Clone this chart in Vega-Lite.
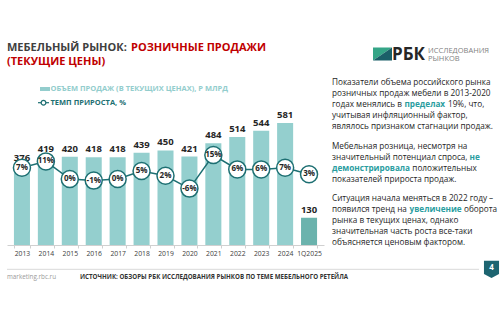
{
  "$schema": "https://vega.github.io/schema/vega-lite/v6.json",
  "padding": {"left": 6, "top": 0, "right": 0, "bottom": 0},
  "background": "white",
  "config": {"view": {"stroke": null}, "font": "Open Sans"},
  "spacing": 0,
  "resolve": {"scale": {"x": "independent", "y": "independent", "color": "independent", "shape": "independent"}},
  "vconcat": [
    {
      "hconcat": [
        {
          "width": 366,
          "height": 78,
          "data": {"values": [
            {"line": 1, "seg": "a", "text": "МЕБЕЛЬНЫЙ РЫНОК:"},
            {"line": 1, "seg": "b", "text": "РОЗНИЧНЫЕ ПРОДАЖИ"},
            {"line": 2, "seg": "c", "text": "(ТЕКУЩИЕ ЦЕНЫ)"}
          ]},
          "encoding": {
            "y": {"field": "line", "type": "ordinal", "scale": {"type": "point", "domain": [1, 2], "range": [51, 64.5], "padding": 0}, "axis": null},
            "text": {"field": "text"}
          },
          "layer": [
            {
              "transform": [{"filter": "datum.seg === 'a'"}],
              "mark": {"type": "text", "align": "left", "baseline": "alphabetic", "fontWeight": "bold", "fontSize": 11, "color": "#404040"},
              "encoding": {"x": {"datum": 0, "type": "quantitative", "scale": {"domain": [0, 366]}, "axis": null}}
            },
            {
              "transform": [{"filter": "datum.seg === 'b'"}],
              "mark": {"type": "text", "align": "left", "baseline": "alphabetic", "fontWeight": "bold", "fontSize": 11, "color": "#c00000"},
              "encoding": {"x": {"datum": 124, "type": "quantitative", "scale": {"domain": [0, 366]}, "axis": null}}
            },
            {
              "transform": [{"filter": "datum.seg === 'c'"}],
              "mark": {"type": "text", "align": "left", "baseline": "alphabetic", "fontWeight": "bold", "fontSize": 11, "color": "#c00000"},
              "encoding": {"x": {"datum": 0, "type": "quantitative", "scale": {"domain": [0, 366]}, "axis": null}}
            }
          ]
        },
        {
          "width": 128,
          "height": 78,
          "layer": [
            {
              "data": {"values": [{"piece": "light"}, {"piece": "dark"}]},
              "mark": {"type": "point", "filled": true, "opacity": 1, "size": 361, "strokeWidth": 0},
              "encoding": {
                "x": {"datum": 9.5, "type": "quantitative", "scale": {"domain": [0, 128]}, "axis": null},
                "y": {"datum": 54, "type": "quantitative", "scale": {"domain": [78, 0]}, "axis": null},
                "shape": {"field": "piece", "type": "nominal", "scale": {"domain": ["light", "dark"], "range": ["M-1,-0.68L1,-0.68L-1,0.68Z", "M1,-0.68L1,0.68L-1,0.68Z"]}, "legend": null},
                "color": {"field": "piece", "type": "nominal", "scale": {"domain": ["light", "dark"], "range": ["#35a587", "#1b5f68"]}, "legend": null}
              }
            },
            {
              "data": {"values": [{"text": "РБК"}]},
              "mark": {"type": "text", "align": "left", "baseline": "alphabetic", "fontWeight": "bold", "fontSize": 17, "color": "#262626"},
              "encoding": {
                "x": {"datum": 19, "type": "quantitative", "scale": {"domain": [0, 128]}, "axis": null},
                "y": {"datum": 60, "type": "quantitative", "scale": {"domain": [78, 0]}, "axis": null},
                "text": {"field": "text"}
              }
            },
            {
              "data": {"values": [{"text": "ИССЛЕДОВАНИЯ"}]},
              "mark": {"type": "text", "align": "left", "baseline": "middle", "fontSize": 7.5, "color": "#7f7f7f"},
              "encoding": {
                "x": {"datum": 55, "type": "quantitative", "scale": {"domain": [0, 128]}, "axis": null},
                "y": {"datum": 50.5, "type": "quantitative", "scale": {"domain": [78, 0]}, "axis": null},
                "text": {"field": "text"}
              }
            },
            {
              "data": {"values": [{"text": "РЫНКОВ"}]},
              "mark": {"type": "text", "align": "left", "baseline": "middle", "fontSize": 7.5, "color": "#7f7f7f"},
              "encoding": {
                "x": {"datum": 55, "type": "quantitative", "scale": {"domain": [0, 128]}, "axis": null},
                "y": {"datum": 59, "type": "quantitative", "scale": {"domain": [78, 0]}, "axis": null},
                "text": {"field": "text"}
              }
            }
          ]
        }
      ],
      "spacing": 0,
      "bounds": "flush",
      "resolve": {"scale": {"x": "independent", "y": "independent", "color": "independent", "shape": "independent"}}
    },
    {
      "hconcat": [
        {
          "vconcat": [
            {
              "width": 317,
              "height": 34,
              "data": {"values": [
                {"series": "bars", "label": "ОБЪЕМ ПРОДАЖ (В ТЕКУЩИХ ЦЕНАХ), Р МЛРД"},
                {"series": "growth", "label": "ТЕМП ПРИРОСТА, %"}
              ]},
              "layer": [
                {
                  "transform": [{"filter": "datum.series === 'bars'"}],
                  "mark": {"type": "point", "filled": true, "opacity": 1, "size": 100, "color": "#93cdcd", "shape": "M-1,-0.4L1,-0.4L1,0.4L-1,0.4Z"},
                  "encoding": {
                    "x": {"datum": 38, "type": "quantitative", "scale": {"domain": [0, 317]}, "axis": null},
                    "y": {"field": "series", "type": "ordinal", "scale": {"type": "point", "domain": ["bars", "growth"], "range": [11, 24.7], "padding": 0}, "axis": null}
                  }
                },
                {
                  "transform": [{"filter": "datum.series === 'growth'"}],
                  "mark": {"type": "rule", "color": "#1d6f72", "strokeWidth": 1.2},
                  "encoding": {
                    "x": {"datum": 31, "type": "quantitative", "scale": {"domain": [0, 317]}, "axis": null},
                    "x2": {"datum": 42},
                    "y": {"field": "series", "type": "ordinal", "scale": {"type": "point", "domain": ["bars", "growth"], "range": [11, 24.7], "padding": 0}, "axis": null}
                  }
                },
                {
                  "transform": [{"filter": "datum.series === 'growth'"}],
                  "mark": {"type": "point", "shape": "circle", "filled": true, "fill": "white", "stroke": "#1d6f72", "strokeWidth": 1.2, "size": 22, "opacity": 1},
                  "encoding": {
                    "x": {"datum": 36.5, "type": "quantitative", "scale": {"domain": [0, 317]}, "axis": null},
                    "y": {"field": "series", "type": "ordinal", "scale": {"type": "point", "domain": ["bars", "growth"], "range": [11, 24.7], "padding": 0}, "axis": null}
                  }
                },
                {
                  "mark": {"type": "text", "align": "left", "baseline": "middle", "fontWeight": "bold", "fontSize": 7.5},
                  "encoding": {
                    "x": {"datum": 43.5, "type": "quantitative", "scale": {"domain": [0, 317]}, "axis": null},
                    "y": {"field": "series", "type": "ordinal", "scale": {"type": "point", "domain": ["bars", "growth"], "range": [11, 24.7], "padding": 0}, "axis": null},
                    "text": {"field": "label"},
                    "color": {"field": "series", "type": "nominal", "scale": {"domain": ["bars", "growth"], "range": ["#93cdcd", "#1d6f72"]}, "legend": null}
                  }
                }
              ]
            },
            {
              "width": 317,
              "height": 133,
              "data": {"values": [
                {"period": "2013", "sales": 376, "growth": 7, "kind": "year"},
                {"period": "2014", "sales": 419, "growth": 11, "kind": "year"},
                {"period": "2015", "sales": 420, "growth": 0, "kind": "year"},
                {"period": "2016", "sales": 418, "growth": -1, "kind": "year"},
                {"period": "2017", "sales": 418, "growth": 0, "kind": "year"},
                {"period": "2018", "sales": 439, "growth": 5, "kind": "year"},
                {"period": "2019", "sales": 450, "growth": 2, "kind": "year"},
                {"period": "2020", "sales": 421, "growth": -6, "kind": "year"},
                {"period": "2021", "sales": 484, "growth": 15, "kind": "year"},
                {"period": "2022", "sales": 514, "growth": 6, "kind": "year"},
                {"period": "2023", "sales": 544, "growth": 6, "kind": "year"},
                {"period": "2024", "sales": 581, "growth": 7, "kind": "year"},
                {"period": "1Q2025", "sales": 130, "growth": 3, "kind": "quarter"}
              ]},
              "transform": [{"calculate": "datum.growth + '%'", "as": "growth_label"}],
              "encoding": {
                "x": {
                  "field": "period", "type": "ordinal", "sort": null,
                  "scale": {"paddingInner": 0.33, "paddingOuter": 0.29},
                  "axis": {"title": null, "labelAngle": 0, "labelFontSize": 6.8, "labelColor": "#404040", "labelPadding": 2, "domainColor": "#d0d0d0", "tickColor": "#d0d0d0", "tickSize": 3, "tickBand": "extent", "labelFont": "Open Sans"}
                }
              },
              "layer": [
                {
                  "layer": [
                    {
                      "mark": {"type": "bar"},
                      "encoding": {
                        "y": {"field": "sales", "type": "quantitative", "scale": {"domain": [0, 633]}, "axis": null},
                        "color": {"field": "kind", "type": "nominal", "scale": {"domain": ["year", "quarter"], "range": ["#94cfce", "#6bb3ad"]}, "legend": null}
                      }
                    },
                    {
                      "mark": {"type": "text", "baseline": "alphabetic", "dy": -5, "fontWeight": "bold", "fontSize": 9.5, "color": "#262626"},
                      "encoding": {
                        "y": {"field": "sales", "type": "quantitative", "scale": {"domain": [0, 633]}, "axis": null},
                        "text": {"field": "sales"}
                      }
                    }
                  ]
                },
                {
                  "layer": [
                    {
                      "mark": {"type": "line", "color": "#1d6f72", "strokeWidth": 1.5},
                      "encoding": {
                        "y": {"field": "growth", "type": "quantitative", "scale": {"domain": [-41.25, 41.875]}, "axis": null}
                      }
                    },
                    {
                      "mark": {"type": "point", "shape": "circle", "filled": true, "fill": "white", "stroke": "#1d6f72", "strokeWidth": 1.5, "size": 290, "opacity": 1},
                      "encoding": {
                        "y": {"field": "growth", "type": "quantitative", "scale": {"domain": [-41.25, 41.875]}, "axis": null}
                      }
                    },
                    {
                      "mark": {"type": "text", "baseline": "middle", "fontWeight": "bold", "fontSize": 8, "color": "#262626"},
                      "encoding": {
                        "y": {"field": "growth", "type": "quantitative", "scale": {"domain": [-41.25, 41.875]}, "axis": null},
                        "text": {"field": "growth_label"}
                      }
                    }
                  ]
                }
              ],
              "resolve": {"scale": {"y": "independent"}}
            }
          ],
          "spacing": 0,
          "bounds": "flush",
          "resolve": {"scale": {"x": "independent", "y": "independent", "color": "independent", "shape": "independent"}}
        },
        {
          "vconcat": [
            {
              "width": 160,
              "height": 54.5,
              "data": {"values": [
                {"line": 0, "seg": "a", "text": "Показатели объема российского рынка"},
                {"line": 1, "seg": "a", "text": "розничных продаж мебели в 2013-2020"},
                {"line": 2, "seg": "a", "text": "годах менялись в"},
                {"line": 2, "seg": "t", "text": "пределах"},
                {"line": 2, "seg": "c", "text": "19%, что,"},
                {"line": 3, "seg": "a", "text": "учитывая инфляционный фактор,"},
                {"line": 4, "seg": "a", "text": "являлось признаком стагнации продаж."}
              ]},
              "encoding": {
                "y": {"field": "line", "type": "ordinal", "scale": {"domain": [0, 1, 2, 3, 4]}, "axis": null},
                "text": {"field": "text"}
              },
              "layer": [
                {
                  "transform": [{"filter": "datum.seg === 'a'"}],
                  "mark": {"type": "text", "align": "left", "baseline": "middle", "fontSize": 8.2, "color": "#262626"},
                  "encoding": {"x": {"datum": 0, "type": "quantitative", "scale": {"domain": [0, 160]}, "axis": null}}
                },
                {
                  "transform": [{"filter": "datum.seg === 't'"}],
                  "mark": {"type": "text", "align": "left", "baseline": "middle", "fontSize": 8.2, "fontWeight": "bold", "color": "#2a9d9f"},
                  "encoding": {"x": {"datum": 72.5, "type": "quantitative", "scale": {"domain": [0, 160]}, "axis": null}}
                },
                {
                  "transform": [{"filter": "datum.seg === 'c'"}],
                  "mark": {"type": "text", "align": "left", "baseline": "middle", "fontSize": 8.2, "color": "#262626"},
                  "encoding": {"x": {"datum": 116, "type": "quantitative", "scale": {"domain": [0, 160]}, "axis": null}}
                }
              ]
            },
            {
              "width": 160,
              "height": 43.6,
              "data": {"values": [
                {"line": 0, "seg": "a", "text": "Мебельная розница, несмотря на"},
                {"line": 1, "seg": "a", "text": "значительный потенциал спроса,"},
                {"line": 1, "seg": "t1", "text": "не"},
                {"line": 2, "seg": "t0", "text": "демонстрировала"},
                {"line": 2, "seg": "c", "text": "положительных"},
                {"line": 3, "seg": "a", "text": "показателей прироста продаж."}
              ]},
              "encoding": {
                "y": {"field": "line", "type": "ordinal", "scale": {"domain": [0, 1, 2, 3]}, "axis": null},
                "text": {"field": "text"}
              },
              "layer": [
                {
                  "transform": [{"filter": "datum.seg === 'a'"}],
                  "mark": {"type": "text", "align": "left", "baseline": "middle", "fontSize": 8.2, "color": "#262626"},
                  "encoding": {"x": {"datum": 0, "type": "quantitative", "scale": {"domain": [0, 160]}, "axis": null}}
                },
                {
                  "transform": [{"filter": "datum.seg === 't1'"}],
                  "mark": {"type": "text", "align": "left", "baseline": "middle", "fontSize": 8.2, "fontWeight": "bold", "color": "#2a9d9f"},
                  "encoding": {"x": {"datum": 137.5, "type": "quantitative", "scale": {"domain": [0, 160]}, "axis": null}}
                },
                {
                  "transform": [{"filter": "datum.seg === 't0'"}],
                  "mark": {"type": "text", "align": "left", "baseline": "middle", "fontSize": 8.2, "fontWeight": "bold", "color": "#2a9d9f"},
                  "encoding": {"x": {"datum": 0, "type": "quantitative", "scale": {"domain": [0, 160]}, "axis": null}}
                },
                {
                  "transform": [{"filter": "datum.seg === 'c'"}],
                  "mark": {"type": "text", "align": "left", "baseline": "middle", "fontSize": 8.2, "color": "#262626"},
                  "encoding": {"x": {"datum": 80.3, "type": "quantitative", "scale": {"domain": [0, 160]}, "axis": null}}
                }
              ]
            },
            {
              "width": 160,
              "height": 54.5,
              "data": {"values": [
                {"line": 0, "seg": "a", "text": "Ситуация начала меняться в 2022 году –"},
                {"line": 1, "seg": "a", "text": "появился тренд на"},
                {"line": 1, "seg": "t", "text": "увеличение"},
                {"line": 1, "seg": "c", "text": "оборота"},
                {"line": 2, "seg": "a", "text": "рынка в текущих ценах, однако"},
                {"line": 3, "seg": "a", "text": "значительная часть роста все-таки"},
                {"line": 4, "seg": "a", "text": "объясняется ценовым фактором."}
              ]},
              "encoding": {
                "y": {"field": "line", "type": "ordinal", "scale": {"domain": [0, 1, 2, 3, 4]}, "axis": null},
                "text": {"field": "text"}
              },
              "layer": [
                {
                  "transform": [{"filter": "datum.seg === 'a'"}],
                  "mark": {"type": "text", "align": "left", "baseline": "middle", "fontSize": 8.2, "color": "#262626"},
                  "encoding": {"x": {"datum": 0, "type": "quantitative", "scale": {"domain": [0, 160]}, "axis": null}}
                },
                {
                  "transform": [{"filter": "datum.seg === 't'"}],
                  "mark": {"type": "text", "align": "left", "baseline": "middle", "fontSize": 8.2, "fontWeight": "bold", "color": "#2a9d9f"},
                  "encoding": {"x": {"datum": 77.5, "type": "quantitative", "scale": {"domain": [0, 160]}, "axis": null}}
                },
                {
                  "transform": [{"filter": "datum.seg === 'c'"}],
                  "mark": {"type": "text", "align": "left", "baseline": "middle", "fontSize": 8.2, "color": "#262626"},
                  "encoding": {"x": {"datum": 132, "type": "quantitative", "scale": {"domain": [0, 160]}, "axis": null}}
                }
              ]
            }
          ],
          "spacing": 8.5,
          "bounds": "flush",
          "resolve": {"scale": {"x": "independent", "y": "independent", "color": "independent", "shape": "independent"}}
        }
      ],
      "spacing": 8,
      "resolve": {"scale": {"x": "independent", "y": "independent", "color": "independent", "shape": "independent"}}
    },
    {
      "width": 494,
      "height": 50,
      "layer": [
        {
          "data": {"values": [{"item": "divider"}]},
          "mark": {"type": "rule", "color": "#d9d9d9", "strokeWidth": 1},
          "encoding": {
            "x": {"datum": 0, "type": "quantitative", "scale": {"domain": [0, 494]}, "axis": null},
            "x2": {"datum": 472},
            "y": {"datum": 12.3, "type": "quantitative", "scale": {"domain": [50, 0]}, "axis": null}
          }
        },
        {
          "data": {"values": [{"text": "marketing.rbc.ru"}]},
          "mark": {"type": "text", "align": "left", "baseline": "middle", "fontSize": 6.3, "color": "#9a9a9a"},
          "encoding": {
            "x": {"datum": 0, "type": "quantitative", "scale": {"domain": [0, 494]}, "axis": null},
            "y": {"datum": 19.7, "type": "quantitative", "scale": {"domain": [50, 0]}, "axis": null},
            "text": {"field": "text"}
          }
        },
        {
          "data": {"values": [{"text": "ИСТОЧНИК:  ОБЗОРЫ РБК ИССЛЕДОВАНИЯ РЫНКОВ ПО ТЕМЕ МЕБЕЛЬНОГО РЕТЕЙЛА"}]},
          "mark": {"type": "text", "align": "left", "baseline": "middle", "fontSize": 6.2, "fontWeight": "bold", "color": "#333333"},
          "encoding": {
            "x": {"datum": 73, "type": "quantitative", "scale": {"domain": [0, 494]}, "axis": null},
            "y": {"datum": 19.7, "type": "quantitative", "scale": {"domain": [50, 0]}, "axis": null},
            "text": {"field": "text"}
          }
        },
        {
          "data": {"values": [{"page": "4"}]},
          "mark": {"type": "point", "filled": true, "opacity": 1, "size": 300, "color": "#1d6470", "strokeWidth": 0, "shape": "M-0.87,-1L0.87,-1L0.87,0.55L0,1L-0.87,0.55Z"},
          "encoding": {
            "x": {"datum": 484.5, "type": "quantitative", "scale": {"domain": [0, 494]}, "axis": null},
            "y": {"datum": 12.3, "type": "quantitative", "scale": {"domain": [50, 0]}, "axis": null}
          }
        },
        {
          "data": {"values": [{"page": "4"}]},
          "mark": {"type": "text", "align": "center", "baseline": "middle", "fontSize": 8, "fontWeight": "bold", "color": "white"},
          "encoding": {
            "x": {"datum": 484.5, "type": "quantitative", "scale": {"domain": [0, 494]}, "axis": null},
            "y": {"datum": 10.6, "type": "quantitative", "scale": {"domain": [50, 0]}, "axis": null},
            "text": {"field": "page"}
          }
        }
      ]
    }
  ]
}
